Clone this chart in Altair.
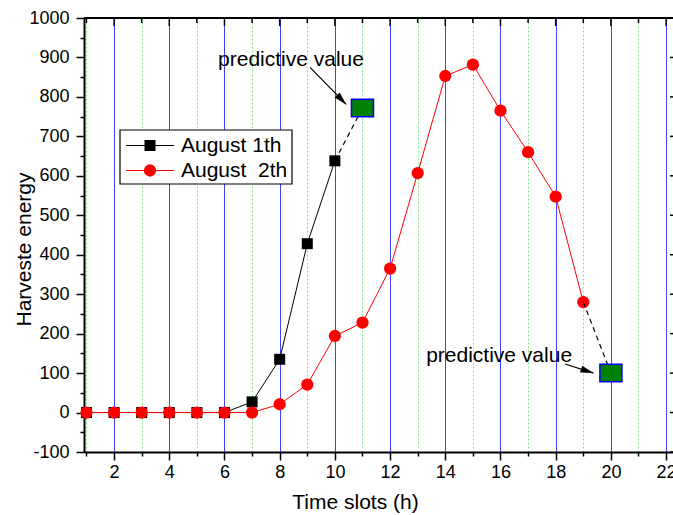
import math
import altair as alt
import pandas as pd

# ---- data -------------------------------------------------------------
series_names = ["August 1th", "August\u00a0 2th"]
series_colors = ["#000000", "#ff0000"]

hours_aug1 = [1, 2, 3, 4, 5, 6, 7, 8, 9, 10]
energy_aug1 = [0, 0, 0, 0, 0, 0, 27, 135, 428, 638]

hours_aug2 = [1, 2, 3, 4, 5, 6, 7, 8, 9, 10, 11, 12, 13, 14, 15, 16, 17, 18, 19]
energy_aug2 = [0, 0, 0, 0, 0, 0, 0, 21, 71, 194, 228, 365, 607, 853, 882, 765, 660, 547, 280]

pred_hours = [11, 20]
pred_energy = [772, 100]

note_text = "predictive value"
note_x = [8.41, 15.95]
note_y = [879, 127]
arrow_tail_x = [9.10, 18.34]
arrow_tail_y = [875, 123]
arrow_tip_x = [10.41, 19.37]
arrow_tip_y = [781, 100]

x_ticks = list(range(1, 23))
y_ticks = list(range(-100, 1001, 50))
y_major = [v for v in y_ticks if v % 100 == 0]

# ---- geometry / style ---------------------------------------------------
W, H = 589, 434
X_DOMAIN = [0.91, 22.25]
Y_DOMAIN = [-100, 1000]
FONT = "Liberation Sans"

df1 = pd.DataFrame({"hour": hours_aug1, "energy": energy_aug1})
df2 = pd.DataFrame({"hour": hours_aug2, "energy": energy_aug2})
df_pred = pd.DataFrame({"hour": pred_hours, "energy": pred_energy})
df_link = pd.DataFrame({
    "hour": [hours_aug1[-1], pred_hours[0], hours_aug2[-1], pred_hours[1]],
    "energy": [energy_aug1[-1], pred_energy[0], energy_aug2[-1], pred_energy[1]],
    "link": ["a", "a", "b", "b"],
})

even_test = "datum.value % 2 === 0"
hund_test = "datum.value % 100 === 0"

x_axis = alt.Axis(
    values=x_ticks,
    title="Time slots (h)",
    labelExpr=f"{even_test} ? '' + datum.value : ''",
    labelOverlap=False, labelFlush=False,
    labelFont=FONT, labelFontSize=18, labelColor="black", labelPadding=3,
    tickSize={"condition": {"test": even_test, "value": 8}, "value": 4},
    tickWidth=1.5, tickColor="black",
    domainColor="black", domainWidth=2,
    grid=True,
    gridColor={"condition": {"test": even_test, "value": "#0000ff"}, "value": "#7ee87e"},
    gridDash={"condition": {"test": even_test, "value": [1, 0]}, "value": [2, 2]},
    gridWidth=1, gridOpacity=1,
    titleFont=FONT, titleFontSize=21, titleFontWeight="normal", titleColor="black",
    titleX=271, titleY=56, titleBaseline="alphabetic", titleAlign="center",
)

y_axis = alt.Axis(
    values=y_ticks,
    title="Harveste energy",
    labelExpr=f"{hund_test} ? '' + datum.value : ''",
    labelOverlap=False, labelFlush=False,
    labelFont=FONT, labelFontSize=18, labelColor="black", labelPadding=7,
    tickSize={"condition": {"test": hund_test, "value": 8}, "value": 4},
    tickWidth=1.5, tickColor="black",
    domainColor="black", domainWidth=2,
    grid=False,
    titleFont=FONT, titleFontSize=21, titleFontWeight="normal", titleColor="black",
    titleX=-54, titleY=231, titleBaseline="alphabetic", titleAlign="center", titleAngle=270,
)

X = alt.X("hour:Q", scale=alt.Scale(domain=X_DOMAIN, nice=False, zero=False), axis=x_axis)
Y = alt.Y("energy:Q", scale=alt.Scale(domain=Y_DOMAIN, nice=False, zero=False), axis=y_axis)

one = alt.Data(values=[{}])

layers = []

# frame: top border, inward ticks on top and right
layers.append(
    alt.Chart(one).mark_rule(color="black", strokeWidth=2).encode(
        x=alt.value(0), x2=alt.value(W), y=alt.value(0))
)
top_df = pd.DataFrame({"hour": x_ticks, "len": [8 if v % 2 == 0 else 5 for v in x_ticks]})
layers.append(
    alt.Chart(top_df[top_df["len"] == 8]).mark_rule(color="black", strokeWidth=1.5).encode(
        x=X, y=alt.value(0), y2=alt.value(8))
)
layers.append(
    alt.Chart(top_df[top_df["len"] == 5]).mark_rule(color="black", strokeWidth=1.5).encode(
        x=X, y=alt.value(0), y2=alt.value(5))
)
layers.append(
    alt.Chart(pd.DataFrame({"energy": y_major})).mark_rule(color="black", strokeWidth=1.5).encode(
        y=Y, x=alt.value(W - 3), x2=alt.value(W))
)

# August 1th
layers.append(alt.Chart(df1).mark_line(color=series_colors[0], strokeWidth=1).encode(x=X, y=Y))
layers.append(
    alt.Chart(df1).mark_point(shape="square", filled=True, size=121, color=series_colors[0], opacity=1)
    .encode(x=X, y=Y)
)
# August 2th
layers.append(alt.Chart(df2).mark_line(color=series_colors[1], strokeWidth=1).encode(x=X, y=Y))
layers.append(
    alt.Chart(df2).mark_point(shape="circle", filled=True, size=151, color=series_colors[1], opacity=1)
    .encode(x=X, y=Y)
)

# dashed links to the predicted values
layers.append(
    alt.Chart(df_link).mark_line(color="black", strokeWidth=1.2, strokeDash=[5, 4]).encode(
        x=X, y=Y, detail="link:N")
)
# predicted values
layers.append(
    alt.Chart(df_pred).mark_point(
        shape="M-1.26,-1H1.26V1H-1.26Z", size=306, filled=True, fill="#008000",
        stroke="#0000ff", strokeWidth=1.5, opacity=1,
    ).encode(x=X, y=Y)
)

# annotations with arrows
kx = W / (X_DOMAIN[1] - X_DOMAIN[0])
ky = H / (Y_DOMAIN[1] - Y_DOMAIN[0])
for i in range(2):
    seg = pd.DataFrame({
        "hour": [arrow_tail_x[i]], "hour2": [arrow_tip_x[i]],
        "energy": [arrow_tail_y[i]], "energy2": [arrow_tip_y[i]],
    })
    layers.append(
        alt.Chart(seg).mark_rule(color="black", strokeWidth=1.2).encode(
            x=X, x2="hour2:Q", y=Y, y2="energy2:Q")
    )
    dx = (arrow_tip_x[i] - arrow_tail_x[i]) * kx
    dy = -(arrow_tip_y[i] - arrow_tail_y[i]) * ky
    ang = (math.degrees(math.atan2(dy, dx)) + 90) % 360
    tip = pd.DataFrame({"hour": [arrow_tip_x[i]], "energy": [arrow_tip_y[i]]})
    layers.append(
        alt.Chart(tip).mark_point(
            shape="M0,0L0.55,2L-0.55,2Z", size=169, filled=True, color="black",
            opacity=1, angle=ang,
        ).encode(x=X, y=Y)
    )
    lab = pd.DataFrame({"hour": [note_x[i]], "energy": [note_y[i]], "t": [note_text]})
    layers.append(
        alt.Chart(lab).mark_text(
            font=FONT, fontSize=21, color="black", align="center", baseline="alphabetic"
        ).encode(x=X, y=Y, text="t:N")
    )

# legend box
layers.append(
    alt.Chart(one).mark_rect(fill="white", stroke="black", strokeWidth=1.2).encode(
        x=alt.value(36), x2=alt.value(208), y=alt.value(112), y2=alt.value(166))
)
legend_rows = [127.5, 152.5]
legend_shapes = [("square", 121), ("circle", 151)]
for name, col, (shp, sz), yy in zip(series_names, series_colors, legend_shapes, legend_rows):
    layers.append(
        alt.Chart(one).mark_rule(color=col, strokeWidth=1).encode(
            x=alt.value(42), x2=alt.value(90), y=alt.value(yy))
    )
    layers.append(
        alt.Chart(one).mark_point(shape=shp, size=sz, filled=True, color=col, opacity=1).encode(
            x=alt.value(66), y=alt.value(yy))
    )
    layers.append(
        alt.Chart(one).mark_text(
            text=name, font=FONT, fontSize=21, color="black", align="left", baseline="alphabetic"
        ).encode(x=alt.value(97), y=alt.value(yy + 6))
    )

chart = (
    alt.layer(*layers)
    .properties(
        width=W, height=H,
        padding={"left": 84, "top": 18, "right": 0, "bottom": 63},
        autosize=alt.AutoSizeParams(type="none"),
        background="white",
    )
    .configure_view(stroke=None)
)

chart.save("out.html", embed_options={"renderer": "svg", "actions": False})
